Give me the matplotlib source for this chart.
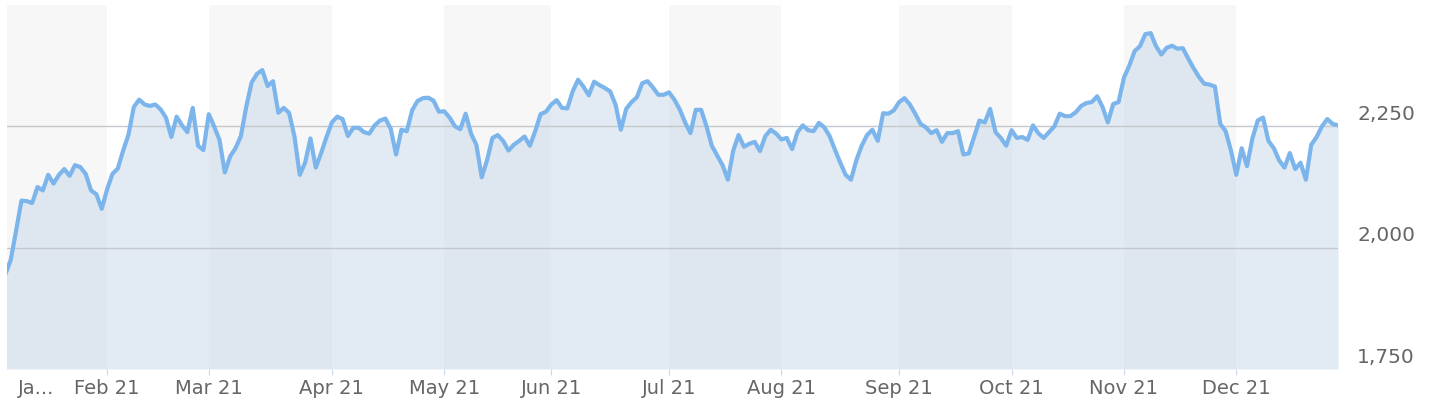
import numpy as np
import pandas as pd
import matplotlib
matplotlib.use('Agg')
import matplotlib.pyplot as plt
from matplotlib.transforms import ScaledTranslation, blended_transform_factory

# trading days of 2021 (US market holidays removed)
holidays = ['2021-01-18', '2021-02-15', '2021-04-02', '2021-05-31',
            '2021-07-05', '2021-09-06', '2021-11-25', '2021-12-24']
dates = pd.bdate_range('2021-01-04', '2021-12-29', freq='C', holidays=holidays)

# daily closes, one list per month
jan = [1945, 1975, 2035, 2097, 2096, 2092, 2125, 2118, 2150, 2132, 2150, 2162,
       2148, 2170, 2166, 2152, 2118, 2110, 2080]
feb = [2120, 2152, 2163, 2200, 2233, 2290, 2305, 2295, 2292, 2295, 2285, 2268,
       2228, 2270, 2252, 2238, 2288, 2210, 2201]
mar = [2275, 2250, 2222, 2155, 2188, 2205, 2230, 2290, 2340, 2358, 2366, 2333,
       2343, 2278, 2288, 2278, 2230, 2150, 2175, 2225, 2165, 2195, 2228]
apr = [2258, 2270, 2265, 2230, 2247, 2247, 2238, 2235, 2252, 2262, 2266, 2245,
       2192, 2243, 2240, 2283, 2302, 2308, 2309, 2303, 2280]
may = [2281, 2268, 2250, 2244, 2276, 2235, 2212, 2145, 2180, 2226, 2232, 2220,
       2200, 2212, 2220, 2229, 2210, 2240, 2275, 2280]
jun = [2295, 2304, 2288, 2287, 2322, 2346, 2332, 2314, 2342, 2335, 2329, 2322,
       2295, 2243, 2286, 2300, 2310, 2339, 2343, 2330, 2315, 2315]
jul = [2320, 2305, 2285, 2258, 2236, 2284, 2284, 2250, 2210, 2190, 2170, 2140,
       2200, 2232, 2208, 2214, 2218, 2199, 2230, 2243, 2235]
aug = [2223, 2226, 2203, 2238, 2252, 2242, 2240, 2257, 2248, 2230, 2202, 2175,
       2150, 2140, 2180, 2210, 2232, 2243, 2220, 2277, 2276, 2283]
sep = [2300, 2308, 2295, 2276, 2255, 2248, 2236, 2242, 2218, 2236, 2236, 2240,
       2192, 2194, 2228, 2262, 2258, 2286, 2238, 2226, 2210]
oct_ = [2242, 2226, 2228, 2222, 2252, 2236, 2226, 2238, 2250, 2276, 2271, 2271,
        2279, 2292, 2298, 2300, 2312, 2290, 2258, 2296, 2300]
nov = [2350, 2375, 2405, 2415, 2440, 2442, 2415, 2398, 2412, 2416, 2410, 2411,
       2390, 2370, 2352, 2338, 2336, 2332, 2255, 2240, 2200]
dec = [2150, 2205, 2168, 2225, 2262, 2268, 2220, 2205, 2180, 2165, 2195, 2162,
       2175, 2140, 2212, 2228, 2250, 2265, 2255, 2252]

values = np.array(jan + feb + mar + apr + may + jun + jul + aug + sep + oct_ + nov + dec)
x = np.arange(len(values))

yticks = [1750, 2000, 2250]

# first trading day of each month
month_start = np.flatnonzero(np.r_[True, dates.month[1:] != dates.month[:-1]])

fig = plt.figure(figsize=(14.42, 4.16), dpi=100)
ax = fig.add_axes([7 / 1442, 1 - 369 / 416, (1338 - 7) / 1442, (369 - 5) / 416])
ax.set_xlim(0.3, 249)
ax.set_ylim(1750, 2500)

# alternating month bands
for k, s in enumerate(month_start):
    if k % 2 == 0:
        e = month_start[k + 1] if k + 1 < len(month_start) else 260
        ax.axvspan(s, e, color='#f7f7f7', lw=0, zorder=0)

ax.fill_between(x, values, 1750, color='#c6d9e8', alpha=0.5, lw=0, zorder=1)

# grid lines show through the area
for v in yticks[1:]:
    ax.axhline(v, color='#c4c8cc', lw=1, zorder=2)

ax.plot(x, values, color='#7cb5ec', lw=3, zorder=3, solid_joinstyle='round')

for s in ax.spines.values():
    s.set_visible(False)

ax.set_xticks(month_start[1:])
ax.set_xticklabels(dates[month_start[1:]].strftime('%b %y'))
ax.tick_params(axis='x', length=4.3, color='#ccd6eb', labelsize=14,
               labelcolor='#666666', pad=3)
trans = blended_transform_factory(ax.transData, ax.transAxes)
ax.text(5.7, 0, 'Ja...', transform=trans + ScaledTranslation(0, -7.5 / 72, fig.dpi_scale_trans),
        ha='center', va='top', fontsize=14, color='#666666')

ax.yaxis.tick_right()
ax.set_yticks(yticks)
ax.set_yticklabels([f'{v:,}' for v in yticks])
ax.tick_params(axis='y', length=0, labelsize=14.5, labelcolor='#666666', pad=13.7)
for lab in ax.get_yticklabels():
    lab.set_transform(lab.get_transform() + ScaledTranslation(0, 13.7 / 100, fig.dpi_scale_trans))

fig.savefig('out.png', dpi=100)
